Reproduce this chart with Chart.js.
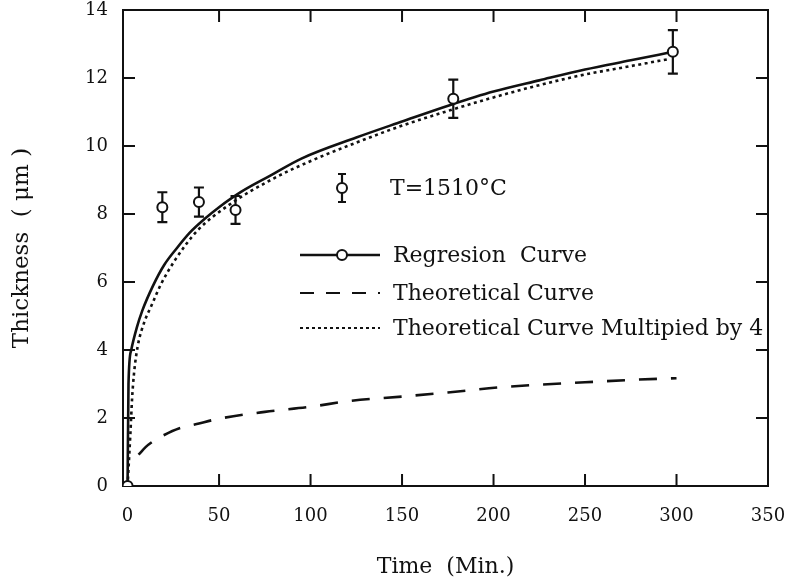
<!DOCTYPE html>
<html>
<head>
<meta charset="utf-8">
<script src="https://cdn.jsdelivr.net/npm/chart.js@4.4.1/dist/chart.umd.min.js"></script>
<style>
  html, body { margin: 0; padding: 0; background: #fff; }
  #wrap { width: 791px; height: 583px; }
</style>
</head>
<body>
<div id="wrap"><canvas id="chart" width="791" height="583"></canvas></div>
<script>
// measured points (time in min, thickness in um, error half-height)
const pointTime  = [0, 19, 39, 59, 178, 298];
const pointThick = [0, 8.2, 8.35, 8.12, 11.39, 12.77];
const pointErr   = [0, 0.44, 0.43, 0.41, 0.56, 0.64];

// regression curve (solid)
const regTime  = [0, 0.5, 2, 5, 8, 14, 20, 27, 34, 42, 50, 62, 78, 95, 125, 150, 176, 200, 225, 250, 275, 298];
const regThick = [0, 3.0, 4.0, 4.65, 5.15, 5.9, 6.5, 7.0, 7.45, 7.85, 8.2, 8.65, 9.13, 9.63, 10.25, 10.72, 11.2, 11.6, 11.93, 12.25, 12.52, 12.77];

// theoretical curve (dashed)
const theoTime  = [6, 10, 15, 20, 28, 39, 50, 75, 100, 121, 150, 175, 203, 225, 250, 275, 300];
const theoThick = [0.92, 1.15, 1.35, 1.5, 1.69, 1.84, 1.98, 2.18, 2.33, 2.5, 2.63, 2.75, 2.9, 2.98, 3.05, 3.12, 3.17];

// theoretical curve x4 (dotted)
const theo4Time  = [0, 1.5, 2.5, 3.5, 5.5, 9, 13, 18.4, 26, 38, 55, 80, 101, 125, 149, 175, 200, 225, 247, 275, 296];
const theo4Thick = [0, 1.5, 2.6, 3.3, 4.1, 4.8, 5.3, 5.95, 6.65, 7.5, 8.25, 9.05, 9.58, 10.1, 10.58, 11.03, 11.43, 11.79, 12.07, 12.35, 12.56];

const xTicks = [0, 50, 100, 150, 200, 250, 300, 350];
const yTicks = [0, 2, 4, 6, 8, 10, 12, 14];

const INK = '#111';
const SERIF = "'DejaVu Serif', serif";

const toXY = (xs, ys) => xs.map((x, i) => ({ x: x, y: ys[i] }));

// frame, inward ticks, error bars and the in-plot legend
const paperPlugin = {
    id: 'paper',
    beforeDatasetsDraw(chart) {
        const { ctx, chartArea: a, scales: { x, y } } = chart;
        ctx.save();
        ctx.strokeStyle = INK;
        ctx.lineWidth = 2;
        ctx.strokeRect(a.left, a.top, a.right - a.left, a.bottom - a.top);
        const tl = 12;
        xTicks.forEach(v => {
            if (v <= 0 || v >= 350) return;
            const px = x.getPixelForValue(v);
            ctx.beginPath();
            ctx.moveTo(px, a.bottom); ctx.lineTo(px, a.bottom - tl);
            ctx.moveTo(px, a.top); ctx.lineTo(px, a.top + tl);
            ctx.stroke();
        });
        yTicks.forEach(v => {
            if (v <= 0 || v >= 14) return;
            const py = y.getPixelForValue(v);
            ctx.beginPath();
            ctx.moveTo(a.left, py); ctx.lineTo(a.left + tl, py);
            ctx.moveTo(a.right, py); ctx.lineTo(a.right - tl, py);
            ctx.stroke();
        });
        // error bars
        ctx.lineWidth = 2.2;
        pointTime.forEach((t, i) => {
            if (!pointErr[i]) return;
            const px = x.getPixelForValue(t);
            const top = y.getPixelForValue(pointThick[i] + pointErr[i]);
            const bot = y.getPixelForValue(pointThick[i] - pointErr[i]);
            ctx.beginPath();
            ctx.moveTo(px, top); ctx.lineTo(px, bot);
            ctx.moveTo(px - 5, top); ctx.lineTo(px + 5, top);
            ctx.moveTo(px - 5, bot); ctx.lineTo(px + 5, bot);
            ctx.stroke();
        });
        ctx.restore();
    },
    afterDraw(chart) {
        const { ctx } = chart;
        ctx.save();
        ctx.strokeStyle = INK;
        ctx.fillStyle = INK;
        ctx.font = '22px ' + SERIF;
        ctx.textBaseline = 'middle';

        const circle = (cx, cy) => {
            ctx.beginPath();
            ctx.arc(cx, cy, 5, 0, Math.PI * 2);
            ctx.fillStyle = '#fff'; ctx.fill();
            ctx.lineWidth = 2; ctx.stroke();
            ctx.fillStyle = INK;
        };

        // T=1510°C symbol
        ctx.lineWidth = 2.2;
        ctx.beginPath();
        ctx.moveTo(342, 174); ctx.lineTo(342, 202);
        ctx.moveTo(338, 174); ctx.lineTo(346, 174);
        ctx.moveTo(338, 202); ctx.lineTo(346, 202);
        ctx.stroke();
        circle(342, 188);
        ctx.fillText('T=1510°C', 390, 189);

        // regression
        ctx.lineWidth = 2.5;
        ctx.beginPath(); ctx.moveTo(300, 255); ctx.lineTo(380, 255); ctx.stroke();
        circle(342, 255);
        ctx.fillText('Regresion  Curve', 393, 256);

        // theoretical
        ctx.setLineDash([14, 12]);
        ctx.beginPath(); ctx.moveTo(300, 293); ctx.lineTo(380, 293); ctx.stroke();
        ctx.fillText('Theoretical Curve', 393, 294);

        // x4
        ctx.setLineDash([3, 3]);
        ctx.beginPath(); ctx.moveTo(300, 328); ctx.lineTo(380, 328); ctx.stroke();
        ctx.setLineDash([]);
        ctx.fillText('Theoretical Curve Multipied by 4', 393, 329);
        ctx.restore();
    }
};

new Chart(document.getElementById('chart'), {
    type: 'scatter',
    data: {
        datasets: [
            {
                label: 'T=1510°C',
                data: toXY(pointTime, pointThick),
                pointRadius: 5, pointBorderWidth: 2,
                pointBackgroundColor: '#fff', pointBorderColor: INK,
                showLine: false
            },
            {
                label: 'Regresion Curve',
                data: toXY(regTime, regThick),
                showLine: true, pointRadius: 0,
                borderColor: INK, borderWidth: 2.6,
                cubicInterpolationMode: 'monotone'
            },
            {
                label: 'Theoretical Curve',
                data: toXY(theoTime, theoThick),
                showLine: true, pointRadius: 0,
                borderColor: INK, borderWidth: 2.6,
                borderDash: [18, 14],
                cubicInterpolationMode: 'monotone'
            },
            {
                label: 'Theoretical Curve Multipied by 4',
                data: toXY(theo4Time, theo4Thick),
                showLine: true, pointRadius: 0,
                borderColor: INK, borderWidth: 2.6,
                borderDash: [3, 3.5],
                cubicInterpolationMode: 'monotone'
            }
        ]
    },
    options: {
        responsive: false,
        animation: false,
        layout: { padding: { top: 10, right: 23, bottom: 0, left: 0 } },
        plugins: { legend: { display: false }, tooltip: { enabled: false } },
        scales: {
            x: {
                type: 'linear', min: -2.5, max: 350,
                afterBuildTicks: s => { s.ticks = xTicks.map(v => ({ value: v })); },
                afterFit: s => { s.height = 97; s.paddingLeft = 0; s.paddingRight = 0; },
                grid: { display: false, drawTicks: false },
                border: { display: false },
                ticks: { color: INK, padding: 20, maxRotation: 0, font: { family: SERIF, size: 18 } },
                title: { display: true, text: 'Time  (Min.)', color: INK, padding: { top: 0, bottom: 3 }, font: { family: SERIF, size: 22 } }
            },
            y: {
                type: 'linear', min: 0, max: 14,
                afterBuildTicks: s => { s.ticks = yTicks.map(v => ({ value: v })); },
                afterFit: s => { s.width = 123; s.paddingTop = 0; s.paddingBottom = 0; },
                grid: { display: false, drawTicks: false },
                border: { display: false },
                ticks: { color: INK, padding: 15, font: { family: SERIF, size: 18 } },
                title: { display: true, text: 'Thickness  ( μm )', color: INK, padding: { top: 8, bottom: 0 }, font: { family: SERIF, size: 23 } }
            }
        }
    },
    plugins: [paperPlugin]
});
</script>
</body>
</html>
